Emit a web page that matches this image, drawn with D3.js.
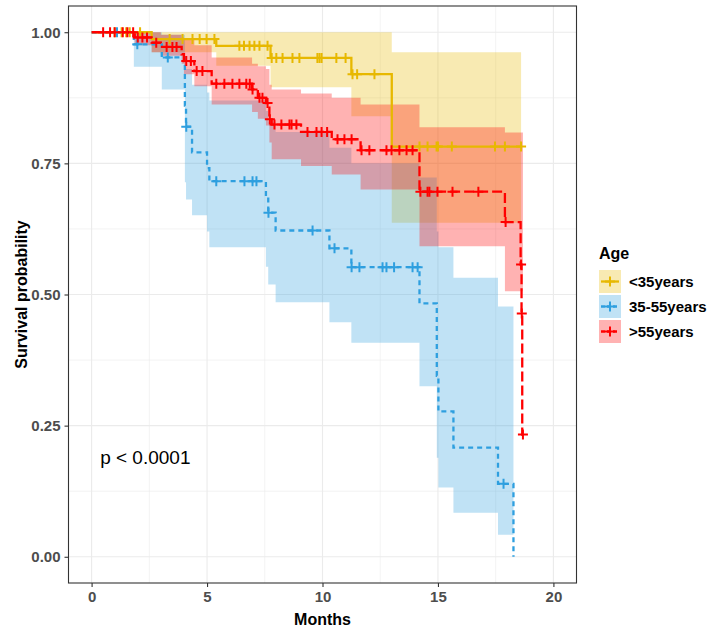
<!DOCTYPE html>
<html lang="en">
<head>
<meta charset="UTF-8">
<title>Survival by age group</title>
<script src="https://cdnjs.cloudflare.com/ajax/libs/d3/7.8.5/d3.min.js"></script>
<style>
  body { margin: 0; background: #fff; }
  svg { display: block; font-family: "Liberation Sans", Arial, sans-serif; }
</style>
</head>
<body>
<div id="chart"></div>
<script>
// ---- data ----
const groupNames = ["<35years", "35-55years", ">55years"];

// <35years
const youngTimes = [0, 2.6, 5.4, 7.75, 11.25, 13.0];
const youngSurv  = [1, 0.987, 0.974, 0.951, 0.920, 0.782];
const youngUpper = [1, 1, 1, 1, 1, 0.962];
const youngLower = [1, 0.962, 0.936, 0.895, 0.84, 0.637];
const youngEnd = 18.6;
const youngCensor = [1.0, 1.3, 1.5, 1.65, 2.1, 3.38, 3.94, 4.37, 4.68, 4.98, 5.32,
  6.4, 6.6, 6.84, 7.05, 7.27, 7.62, 7.8, 8.0, 8.27, 8.7, 9.0, 9.78, 9.87, 9.96,
  10.6, 11.0, 11.3, 11.5, 12.25, 14.2, 14.55, 14.94, 15.0, 15.6, 17.47, 17.9, 18.6];

// 35-55years
const midTimes = [0, 1.83, 3.04, 4.04, 4.09, 4.35, 5.0, 5.1, 7.55, 7.65, 7.97, 10.3, 11.25, 14.2, 14.95, 15.02, 15.67, 17.6, 18.27];
const midSurv  = [1, 0.977, 0.952, 0.86, 0.82, 0.771, 0.741, 0.716, 0.686, 0.656, 0.622, 0.588, 0.552, 0.483, 0.345, 0.277, 0.208, 0.139, 0];
const midUpper = [1, 1, 0.995, 0.95, 0.93, 0.90, 0.885, 0.87, 0.85, 0.83, 0.81, 0.78, 0.75, 0.723, 0.62, 0.59, 0.532, 0.477, null];
const midLower = [1, 0.934, 0.891, 0.714, 0.681, 0.651, 0.620, 0.590, 0.553, 0.519, 0.485, 0.447, 0.408, 0.325, 0.189, 0.132, 0.084, 0.042, null];
const midEnd = 18.27;
const midCensor = [1.1, 1.98, 3.3, 4.1, 5.4, 6.62, 6.97, 7.14, 7.66, 9.57, 10.52,
  11.26, 11.6, 12.6, 12.77, 13.1, 13.9, 14.12, 17.84];

// >55years
const oldTimes = [0, 1.87, 2.6, 3.0, 3.9, 4.0, 4.45, 5.2, 6.95, 7.2, 7.55, 7.7, 7.8, 9.07, 10.4, 11.65, 14.2, 17.9, 18.58, 18.62, 18.65];
const oldSurv  = [1, 0.990, 0.980, 0.972, 0.958, 0.945, 0.926, 0.902, 0.891, 0.875, 0.865, 0.834, 0.824, 0.81, 0.796, 0.775, 0.696, 0.638, 0.557, 0.464, 0.233];
const oldUpper = [1, 1, 1, 0.995, 0.99, 0.985, 0.975, 0.952, 0.94, 0.935, 0.93, 0.90, 0.891, 0.883, 0.875, 0.862, 0.819, 0.809, 0.809, 0.809, 0.809];
const oldLower = [1, 0.975, 0.962, 0.955, 0.94, 0.92, 0.897, 0.862, 0.848, 0.835, 0.822, 0.79, 0.758, 0.745, 0.729, 0.700, 0.592, 0.506, 0.506, 0.506, 0.506];
const oldEnd = 18.68;
const oldCensor = [0.5, 0.8, 1.0, 1.35, 1.55, 1.8, 2.0, 2.2, 2.4, 2.8, 3.25, 3.5, 3.68,
  4.1, 4.3, 4.55, 4.8, 5.4, 5.75, 6.1, 6.4, 6.7, 6.85, 6.97, 7.27, 7.4, 7.62, 7.72,
  7.92, 8.22, 8.57, 8.66, 8.87, 9.35, 9.74, 9.96, 10.2, 10.65, 10.95, 11.26, 11.69,
  12.03, 12.77, 12.99, 13.33, 13.64, 13.9, 14.24, 14.55, 14.63, 14.98, 15.63, 16.75,
  17.93, 18.6, 18.63, 18.68];

const xTicks = [0, 5, 10, 15, 20];
const yTicks = [0, 0.25, 0.5, 0.75, 1];
const pLabel = "p < 0.0001";

// ---- styling ----
const colors = ["#E7B800", "#2E9FDF", "#FF0000"];
const dashes = [null, "5,4", "10,4"];

const groups = [
  {times: youngTimes, surv: youngSurv, upper: youngUpper, lower: youngLower, end: youngEnd, censor: youngCensor},
  {times: midTimes, surv: midSurv, upper: midUpper, lower: midLower, end: midEnd, censor: midCensor},
  {times: oldTimes, surv: oldSurv, upper: oldUpper, lower: oldLower, end: oldEnd, censor: oldCensor}
].map((g, i) => {
  const rows = g.times.map((t, j) => ({t, s: g.surv[j], lo: g.lower[j], hi: g.upper[j]}));
  const lineRows = rows.slice();
  if (g.end > rows[rows.length - 1].t) lineRows.push({t: g.end, s: rows[rows.length - 1].s});
  const ci = rows.filter(r => r.lo != null);
  const lastCi = ci[ci.length - 1];
  const ribbonRows = ci.concat([{t: g.end, lo: lastCi.lo, hi: lastCi.hi}]);
  const survAt = t => { let v = 1; rows.forEach(r => { if (r.t <= t) v = r.s; }); return v; };
  const marks = g.censor.map(t => ({t, s: survAt(t)}));
  return {name: groupNames[i], color: colors[i], dash: dashes[i], lineRows, ribbonRows, marks};
});

const W = 710, H = 631;
const svg = d3.select("#chart").append("svg").attr("width", W).attr("height", H);

const x = d3.scaleLinear().domain([-1, 21]).range([68.5, 576.5]);
const y = d3.scaleLinear().domain([-0.05, 1.05]).range([583, 6]);

// grid
const grid = svg.append("g");
const xMinor = [2.5, 7.5, 12.5, 17.5], yMinor = [0.125, 0.375, 0.625, 0.875];
grid.selectAll(".xmin").data(xMinor).join("line")
  .attr("x1", d => x(d)).attr("x2", d => x(d)).attr("y1", 6).attr("y2", 583)
  .attr("stroke", "#EBEBEB").attr("stroke-width", 0.6);
grid.selectAll(".ymin").data(yMinor).join("line")
  .attr("y1", d => y(d)).attr("y2", d => y(d)).attr("x1", 68.5).attr("x2", 576.5)
  .attr("stroke", "#EBEBEB").attr("stroke-width", 0.6);
grid.selectAll(".xmaj").data(xTicks).join("line")
  .attr("x1", d => x(d)).attr("x2", d => x(d)).attr("y1", 6).attr("y2", 583)
  .attr("stroke", "#EBEBEB").attr("stroke-width", 1.1);
grid.selectAll(".ymaj").data(yTicks).join("line")
  .attr("y1", d => y(d)).attr("y2", d => y(d)).attr("x1", 68.5).attr("x2", 576.5)
  .attr("stroke", "#EBEBEB").attr("stroke-width", 1.1);

// ribbons
const area = d3.area().curve(d3.curveStepAfter)
  .x(d => x(d.t)).y0(d => y(d.lo)).y1(d => y(d.hi));
svg.append("g").selectAll("path").data(groups).join("path")
  .attr("d", d => area(d.ribbonRows))
  .attr("fill", d => d.color).attr("fill-opacity", 0.3);

// survival curves
const line = d3.line().curve(d3.curveStepAfter).x(d => x(d.t)).y(d => y(d.s));
svg.append("g").selectAll("path").data(groups).join("path")
  .attr("d", d => line(d.lineRows))
  .attr("fill", "none").attr("stroke", d => d.color).attr("stroke-width", 2.3)
  .attr("stroke-dasharray", d => d.dash);

// censor marks
const cross = "M-5,0H5M0,-5V5";
groups.forEach(g => {
  svg.append("g").selectAll("path").data(g.marks).join("path")
    .attr("transform", d => `translate(${x(d.t)},${y(d.s)})`)
    .attr("d", cross).attr("stroke", g.color).attr("stroke-width", 2).attr("fill", "none");
});

// panel border
svg.append("rect").attr("x", 68.5).attr("y", 6).attr("width", 508).attr("height", 577)
  .attr("fill", "none").attr("stroke", "#333").attr("stroke-width", 1.1);

// axes
const xAxis = svg.append("g").attr("transform", "translate(0,583)")
  .call(d3.axisBottom(x).tickValues(xTicks).tickSize(4).tickPadding(4).tickFormat(d3.format("d")));
const yAxis = svg.append("g").attr("transform", "translate(68.5,0)")
  .call(d3.axisLeft(y).tickValues(yTicks).tickSize(4).tickPadding(4).tickFormat(d3.format(".2f")));
[xAxis, yAxis].forEach(a => {
  a.select(".domain").remove();
  a.selectAll(".tick line").attr("stroke", "#333").attr("stroke-width", 1.1);
  a.selectAll(".tick text").attr("fill", "#4D4D4D").attr("font-size", 15)
    .attr("font-weight", "bold").attr("font-family", "Liberation Sans, Arial, sans-serif");
});

// axis titles
svg.append("text").attr("x", x(10)).attr("y", 625).attr("text-anchor", "middle")
  .attr("font-size", 16).attr("font-weight", "bold").text("Months");
svg.append("text").attr("transform", `translate(27,${(6 + 583) / 2}) rotate(-90)`)
  .attr("text-anchor", "middle").attr("font-size", 16).attr("font-weight", "bold")
  .text("Survival probability");

// p-value
svg.append("text").attr("x", x(0.37)).attr("y", y(0.19) + 7).attr("font-size", 19)
  .text(pLabel);

// legend
const leg = svg.append("g").attr("transform", "translate(599,0)");
leg.append("text").attr("x", 0).attr("y", 259).attr("font-size", 16).attr("font-weight", "bold").text("Age");
const keys = leg.selectAll(".key").data(groups).join("g")
  .attr("transform", (d, i) => `translate(0,${270 + i * 25})`);
keys.append("rect").attr("width", 22).attr("height", 23).attr("fill", "#fff");
keys.append("rect").attr("width", 22).attr("height", 23)
  .attr("fill", d => d.color).attr("fill-opacity", 0.3);
keys.append("line").attr("x1", 2).attr("x2", 20).attr("y1", 11.5).attr("y2", 11.5)
  .attr("stroke", d => d.color).attr("stroke-width", 2.3)
  .attr("stroke-dasharray", d => d.dash ? "4,2" : null);
keys.append("path").attr("transform", "translate(11,11.5)").attr("d", cross)
  .attr("stroke", d => d.color).attr("stroke-width", 2).attr("fill", "none");
keys.append("text").attr("x", 30).attr("y", 17).attr("font-size", 15).attr("font-weight", "bold")
  .text(d => d.name);
</script>
</body>
</html>
